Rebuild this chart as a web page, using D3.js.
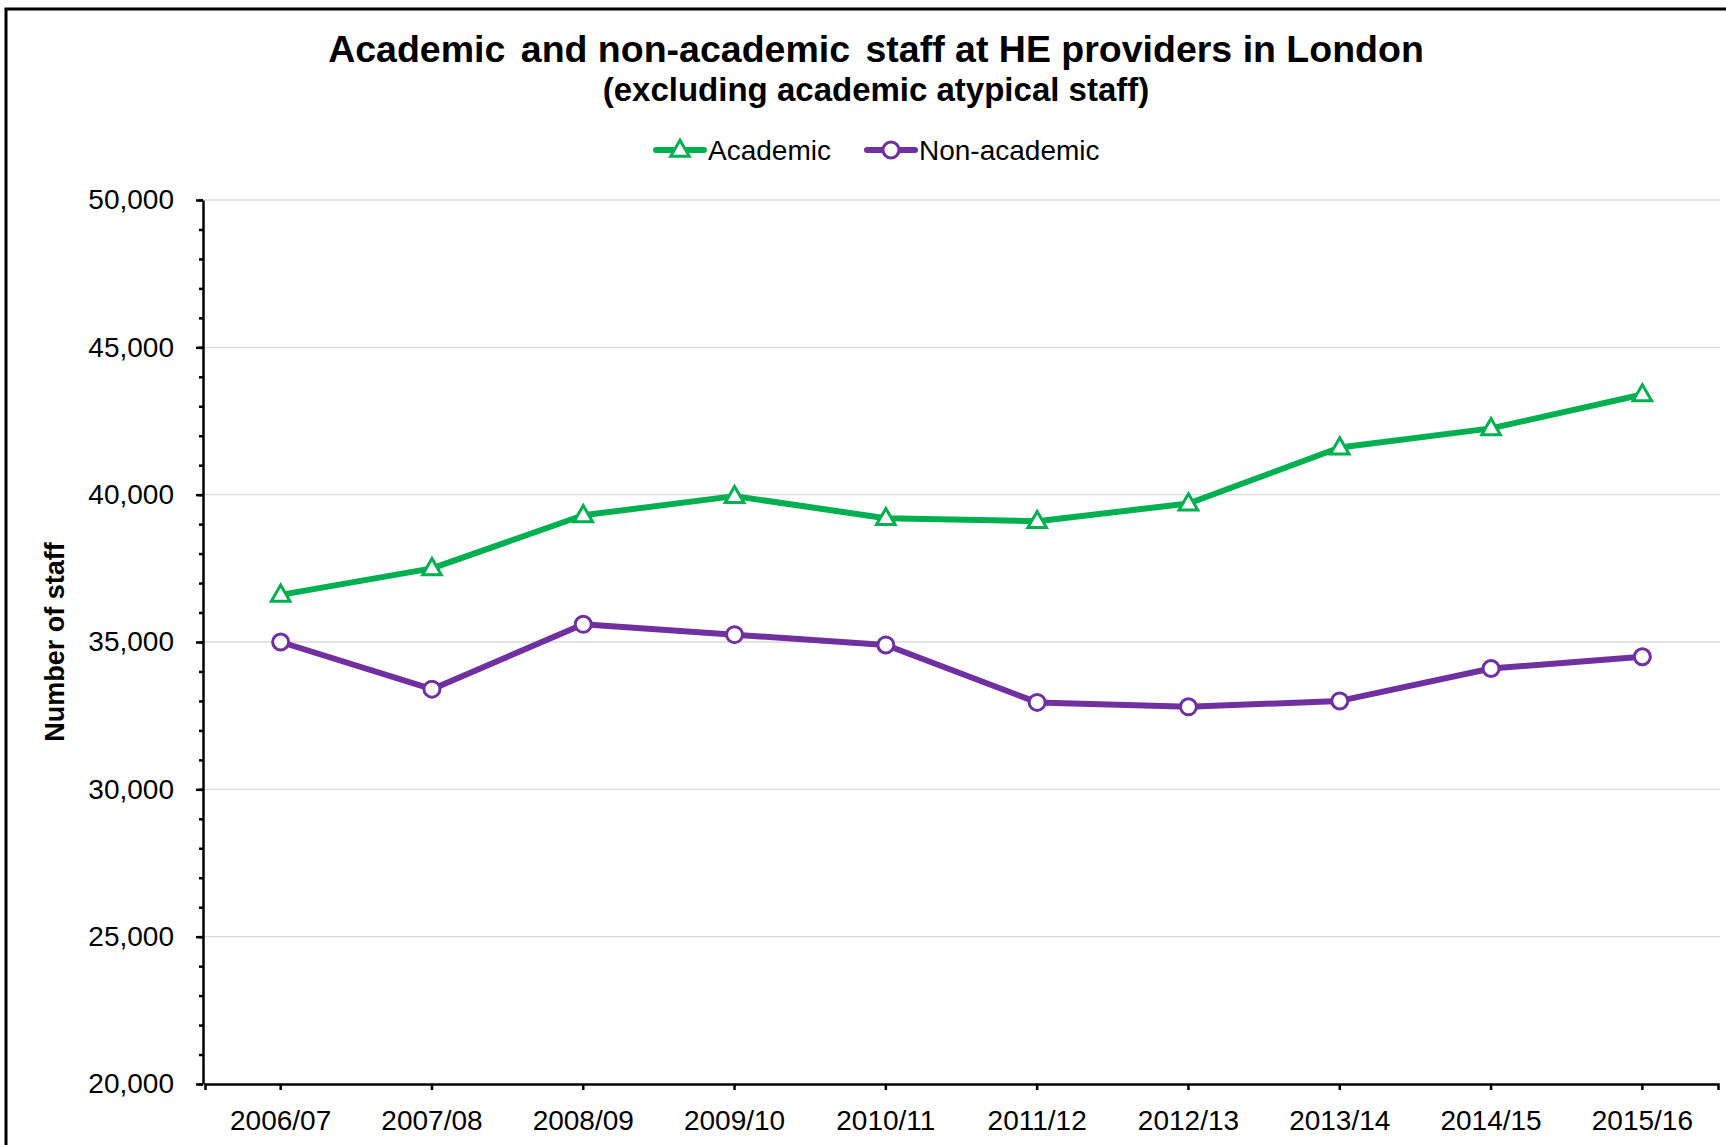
<!DOCTYPE html>
<html>
<head>
<meta charset="utf-8" />
<title>Academic and non-academic staff at HE providers in London</title>
<style>
body { margin: 0; background: #fff; }
svg text { font-family: "Liberation Sans", Arial, sans-serif; fill: #000; }
.grid line { stroke: #d9d9d9; stroke-width: 1.3; }
.axis path, .axis line { stroke: #000; stroke-width: 2.5; }
.axis text { font-size: 28px; }
</style>
</head>
<body>
<div id="graph"></div>
<script src="https://d3js.org/d3.v7.min.js"></script>
<script>

// data
var years = ["2006/07", "2007/08", "2008/09", "2009/10", "2010/11",
             "2011/12", "2012/13", "2013/14", "2014/15", "2015/16"];
var academic    = [36600, 37500, 39300, 39950, 39200, 39100, 39700, 41600, 42250, 43400];
var nonAcademic = [35000, 33400, 35600, 35250, 34900, 32950, 32800, 33000, 34100, 34500];
var yTicks = [20000, 25000, 30000, 35000, 40000, 45000, 50000];

var width = 1726, height = 1145;
var plotLeft = 203, plotRight = 1718, plotTop = 200, plotBottom = 1084;

var green = "#00b050", purple = "#7030a0";

var svg = d3.select("#graph").append("svg")
    .attr("width", width)
    .attr("height", height);

// outer frame (runs off the right and bottom of the picture)
svg.append("rect")
    .attr("x", 6).attr("y", 9)
    .attr("width", 1800).attr("height", 1300)
    .attr("fill", "none")
    .attr("stroke", "#000")
    .attr("stroke-width", 3);

var x = d3.scaleBand().domain(years).range([plotLeft + 2, plotRight]);
var y = d3.scaleLinear().domain([20000, 50000]).range([plotBottom, plotTop]);

// gridlines
svg.append("g").attr("class", "grid")
    .selectAll("line")
    .data(yTicks.slice(1))
    .enter().append("line")
    .attr("x1", plotLeft).attr("x2", plotRight + 2)
    .attr("y1", d => y(d)).attr("y2", d => y(d));

// minor ticks every 1000
svg.append("g").attr("class", "axis")
    .attr("transform", "translate(" + plotLeft + ",0)")
    .call(d3.axisLeft(y).tickValues(d3.range(20000, 50001, 1000)).tickSize(4).tickFormat(""))
    .call(g => g.select(".domain").remove());

svg.append("g").attr("class", "axis")
    .attr("transform", "translate(" + plotLeft + ",0)")
    .call(d3.axisLeft(y).tickValues(yTicks).tickSize(7).tickSizeOuter(0)
        .tickPadding(22).tickFormat(d3.format(",")));

svg.append("g").attr("class", "axis")
    .attr("transform", "translate(0," + plotBottom + ")")
    .call(d3.axisBottom(x).tickSize(6).tickSizeOuter(6).tickPadding(20));

// titles
var title = svg.append("text")
    .attr("x", 876).attr("y", 62)
    .attr("text-anchor", "middle")
    .style("font-size", "37.5px").style("font-weight", "bold");
title.append("tspan").text("Academic");
title.append("tspan").attr("dx", 5).text(" and non-academic");
title.append("tspan").attr("dx", 5).text(" staff at HE providers in London");

svg.append("text")
    .attr("x", 876).attr("y", 101)
    .attr("text-anchor", "middle")
    .style("font-size", "33px").style("font-weight", "bold")
    .text("(excluding academic atypical staff)");

svg.append("text")
    .attr("transform", "translate(64,642) rotate(-90)")
    .attr("text-anchor", "middle")
    .style("font-size", "27px").style("font-weight", "bold")
    .text("Number of staff");

// series
var series = [
    { name: "Academic", values: academic, color: green, shape: "triangle", lx: 656 },
    { name: "Non-academic", values: nonAcademic, color: purple, shape: "circle", lx: 867 }
];

var line = d3.line()
    .x((d, i) => x(years[i]) + x.bandwidth() / 2)
    .y(d => y(d));

function marker(g, s) {
    if (s.shape == "triangle") {
        g.append("path")
            .attr("d", d3.symbol().type(d3.symbolTriangle).size(150))
            .attr("transform", "translate(0,1)");
    } else {
        g.append("circle").attr("r", 8);
    }
    g.selectAll("path, circle")
        .attr("fill", "#fff")
        .attr("stroke", s.color)
        .attr("stroke-width", 3);
}

series.forEach(function(s) {
    svg.append("path")
        .datum(s.values)
        .attr("d", line)
        .attr("fill", "none")
        .attr("stroke", s.color)
        .attr("stroke-width", 6)
        .attr("stroke-linejoin", "round");

    svg.append("g").selectAll("g")
        .data(s.values)
        .enter().append("g")
        .attr("transform", (d, i) => "translate(" + (x(years[i]) + x.bandwidth() / 2) + "," + y(d) + ")")
        .each(function() { marker(d3.select(this), s); });

    // legend
    var lg = svg.append("g").attr("transform", "translate(" + s.lx + ",150)");
    lg.append("line")
        .attr("x1", 0).attr("x2", 48)
        .attr("stroke", s.color).attr("stroke-width", 6)
        .attr("stroke-linecap", "round");
    marker(lg.append("g").attr("transform", "translate(24,0)"), s);
    lg.append("text")
        .attr("x", 52).attr("dy", "0.35em")
        .style("font-size", "28px")
        .text(s.name);
});
</script>
</body>
</html>
